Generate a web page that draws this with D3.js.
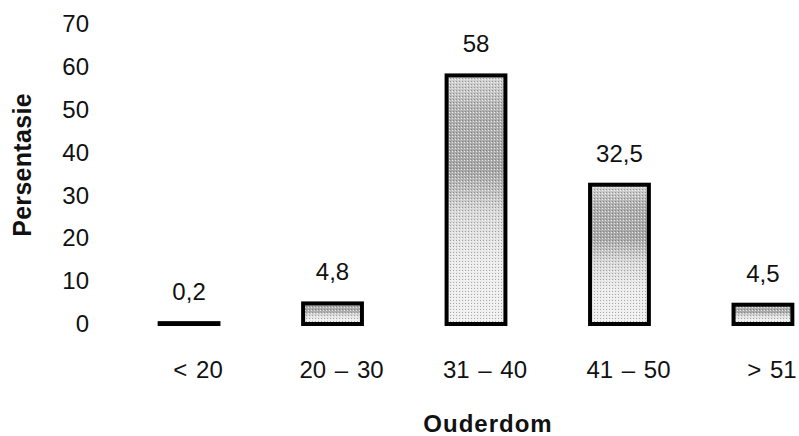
<!DOCTYPE html>
<html>
<head>
<meta charset="utf-8">
<script src="https://cdn.jsdelivr.net/npm/d3@7"></script>
<style>
  html, body { margin: 0; padding: 0; background: #fff; }
  svg { display: block; font-family: "Liberation Sans", Arial, sans-serif; }
</style>
</head>
<body>
<svg id="chart" width="799" height="436"></svg>
<script>
// Age groups and percentage of respondents in each
const categories = ["< 20", "20 \u2013 30", "31 \u2013 40", "41 \u2013 50", "> 51"];
const values = [0.2, 4.8, 58, 32.5, 4.5];
const valueLabels = ["0,2", "4,8", "58", "32,5", "4,5"];
const yTicks = [0, 10, 20, 30, 40, 50, 60, 70];

const FS = 24;
const svg = d3.select("#chart");

const y = d3.scaleLinear().domain([0, 70]).range([324, 24]);
const x = d3.scaleBand().domain(categories).range([75, 877]).padding(0.59);

// stippled grey fill: darker band in the upper part, fading lower down
const defs = svg.append("defs");
const grad = defs.append("linearGradient")
  .attr("id", "barShade").attr("x1", 0).attr("y1", 0).attr("x2", 0).attr("y2", 1);
[[0, "#d6d6d6"], [0.15, "#b0b0b0"], [0.38, "#a8a8a8"], [0.55, "#d8d8d8"], [0.75, "#ececec"], [1, "#f0f0f0"]]
  .forEach(([o, c]) => grad.append("stop").attr("offset", o).attr("stop-color", c));

const dots = defs.append("pattern")
  .attr("id", "stipple").attr("width", 3).attr("height", 3)
  .attr("patternUnits", "userSpaceOnUse");
dots.append("rect").attr("width", 1).attr("height", 1).attr("fill", "#444").attr("opacity", 0.4);
dots.append("rect").attr("x", 2).attr("y", 1).attr("width", 1).attr("height", 1).attr("fill", "#fff").attr("opacity", 0.7);

// y-axis tick labels (no axis line)
const yAxis = d3.axisLeft(y).tickValues(yTicks).tickSize(0).tickPadding(0)
  .tickFormat(d3.format("d"));
svg.append("g")
  .attr("transform", "translate(89,0)")
  .call(yAxis)
  .call(g => g.select(".domain").remove())
  .selectAll("text")
  .attr("font-size", FS)
  .attr("font-family", "Liberation Sans, Arial, sans-serif")
  .attr("fill", "#111");

// bars
const bars = svg.append("g");
bars.selectAll("rect.fill")
  .data(values)
  .join("rect")
  .attr("x", (d, i) => x(categories[i]))
  .attr("y", d => y(d))
  .attr("width", x.bandwidth())
  .attr("height", d => y(0) - y(d))
  .attr("fill", "url(#barShade)");
bars.selectAll("rect.tex")
  .data(values)
  .join("rect")
  .attr("x", (d, i) => x(categories[i]))
  .attr("y", d => y(d))
  .attr("width", x.bandwidth())
  .attr("height", d => y(0) - y(d))
  .attr("fill", "url(#stipple)")
  .attr("stroke", "#000")
  .attr("stroke-width", 4);

// value labels above bars
svg.append("g").selectAll("text")
  .data(values)
  .join("text")
  .attr("x", (d, i) => x(categories[i]) + x.bandwidth() / 2)
  .attr("y", d => y(d) - 23)
  .attr("text-anchor", "middle")
  .attr("font-size", FS)
  .attr("fill", "#111")
  .text((d, i) => valueLabels[i]);

// category labels
const xAxis = d3.axisBottom(x).tickSize(0).tickPadding(0);
svg.append("g")
  .attr("transform", "translate(9,361)")
  .call(xAxis)
  .call(g => g.select(".domain").remove())
  .selectAll("text")
  .attr("font-size", FS)
  .attr("font-family", "Liberation Sans, Arial, sans-serif")
  .attr("word-spacing", 2)
  .attr("fill", "#111");

// axis titles
svg.append("text")
  .attr("x", 488).attr("y", 432)
  .attr("text-anchor", "middle")
  .attr("font-size", FS).attr("font-weight", "bold")
  .attr("letter-spacing", 1)
  .attr("fill", "#111")
  .text("Ouderdom");

svg.append("text")
  .attr("transform", "translate(31,165) rotate(-90)")
  .attr("text-anchor", "middle")
  .attr("font-size", 25).attr("font-weight", "bold")
  .attr("letter-spacing", 0.3)
  .attr("fill", "#111")
  .text("Persentasie");
</script>
</body>
</html>
